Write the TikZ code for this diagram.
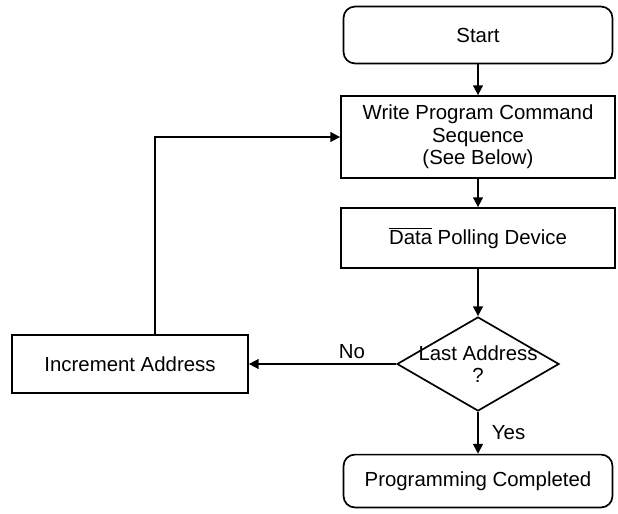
\documentclass[tikz,border=0pt]{standalone}
\usepackage{fontspec}
\setmainfont{Liberation Sans}
\usetikzlibrary{shapes.geometric,arrows.meta}
\begin{document}
\begin{tikzpicture}[x=0.025cm,y=-0.025cm,line width=1.2pt,
    every node/.style={font=\fontsize{14.5}{16}\selectfont},
    box/.style={draw,rectangle,minimum width=6.85cm,align=center},
    term/.style={draw,rectangle,rounded corners=8pt,minimum width=6.72cm},
    decision/.style={draw,diamond,minimum width=4.05cm,minimum height=2.35cm,inner sep=0pt},
    flow/.style={-{Triangle[length=7pt,width=7pt]}}]
    \useasboundingbox (0,0) rectangle (618,513);
    % main column
    \node[term,minimum height=1.42cm] (start) at (478,35) {Start};
    \node[box,minimum height=2.05cm] (write) at (478,137) {Write Program Command\\Sequence\\(See Below)};
    \node[box,minimum height=1.5cm] (poll) at (478,238) {$\overline{\mbox{Data}}$ Polling Device};
    \node[decision] (last) at (478,364) {};
    \node[align=center] (lastlbl) at (last) {Last Address\\?};
    \node[term,minimum height=1.32cm] (done) at (478,481) {Programming Completed};
    % loop back
    \node[box,minimum width=5.9cm,minimum height=1.45cm] (incr) at (130,364) {Increment Address};
    \coordinate (turn) at (155,137);
    \draw[flow] (start) -- (write);
    \draw[flow] (write) -- (poll);
    \draw[flow] (poll) -- (last);
    \draw[flow] (last.west) -- node[above,pos=0.3] (no) {No} (incr.east);
    \draw[flow] (last.south) -- node[right,xshift=6pt] (yes) {Yes} (done.north);
    \draw[flow] (incr.north -| turn) |- (write.west);
\end{tikzpicture}
\end{document}
